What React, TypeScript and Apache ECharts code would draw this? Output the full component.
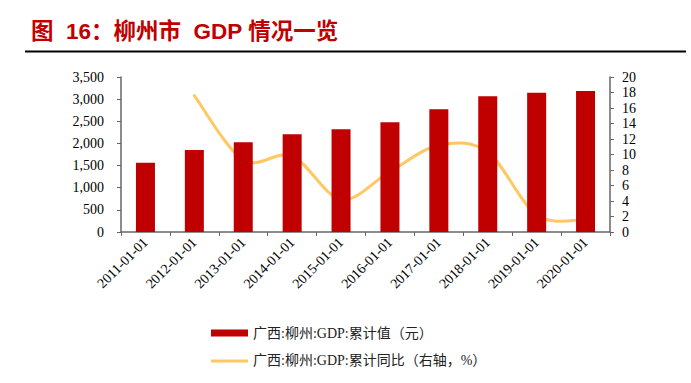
import React, { useEffect, useRef } from "react";
import * as echarts from "echarts";

const categories = [
  "2011-01-01", "2012-01-01", "2013-01-01", "2014-01-01", "2015-01-01",
  "2016-01-01", "2017-01-01", "2018-01-01", "2019-01-01", "2020-01-01",
];
const gdpValues = [1565, 1851, 2025, 2205, 2319, 2477, 2770, 3064, 3146, 3184];
const gdpGrowth: (number | null)[] = [null, 17.6, 9.3, 9.8, 4.2, 7.8, 11.2, 10.3, 2.2, 1.6];
const barName = "广西:柳州:GDP:累计值（元）";
const lineName = "广西:柳州:GDP:累计同比（右轴，%）";
const titleText = "图  16：柳州市  GDP 情况一览";

const serif = "'Liberation Serif', 'Times New Roman', 'Noto Sans CJK SC', serif";
const axisColor = "#666666";
const lineColor = "#FFC864";

const growthPoints = gdpGrowth
  .map((v, i) => (v == null ? null : [i, v]))
  .filter((p) => p != null) as number[][];

export default function App() {
  const ref = useRef<HTMLDivElement>(null);
  useEffect(() => {
    if (!ref.current) return;
    const chart = echarts.init(ref.current, null, { renderer: "svg" });
    chart.setOption({
      animation: false,
      backgroundColor: "#ffffff",
      title: {
        text: titleText,
        left: 26,
        top: 15,
        textStyle: {
          color: "#C00000",
          fontSize: 22.5,
          fontWeight: "bold",
          fontFamily: "'Liberation Sans', Arial, 'Noto Sans CJK SC', sans-serif",
        },
      },
      graphic: [
        {
          type: "rect",
          shape: { x: 25, y: 50.5, width: 661, height: 2 },
          style: { fill: "#000000" },
        },
      ],
      grid: { left: 121, right: 81, top: 77, bottom: 151 },
      legend: {
        orient: "vertical",
        left: 206,
        top: 321,
        itemWidth: 37,
        itemHeight: 7,
        itemGap: 14,
        textStyle: { fontSize: 14, color: "#222", fontFamily: serif },
        data: [
          { name: barName, icon: "rect" },
          { name: lineName, icon: "path://M0 0H37V3H0Z", itemStyle: { color: lineColor } },
        ],
      },
      xAxis: {
        type: "category",
        data: categories,
        axisLine: { lineStyle: { color: axisColor, width: 1.5 } },
        axisTick: { show: true, length: 4, inside: false, lineStyle: { color: axisColor } },
        axisLabel: {
          rotate: 45,
          fontSize: 14,
          color: "#000",
          fontFamily: serif,
          margin: 8,
          interval: 0,
        },
      },
      yAxis: [
        {
          type: "value",
          min: 0,
          max: 3500,
          interval: 500,
          splitLine: { show: false },
          axisLine: { show: true, lineStyle: { color: axisColor, width: 1.5 } },
          axisTick: { show: true, length: 4, lineStyle: { color: axisColor } },
          axisLabel: {
            fontSize: 14,
            color: "#000",
            fontFamily: serif,
            margin: 17,
            formatter: (v: number) => v.toLocaleString("en-US"),
          },
        },
        {
          type: "value",
          min: 0,
          max: 20,
          interval: 2,
          position: "right",
          splitLine: { show: false },
          axisLine: { show: true, lineStyle: { color: axisColor, width: 1.5 } },
          axisTick: { show: true, length: 4, lineStyle: { color: axisColor } },
          axisLabel: { fontSize: 14, color: "#000", fontFamily: serif, margin: 12 },
        },
      ],
      series: [
        {
          name: barName,
          type: "bar",
          data: gdpValues,
          barWidth: 19,
          itemStyle: { color: "#C00000" },
        },
        {
          name: lineName,
          type: "custom",
          yAxisIndex: 1,
          data: growthPoints,
          itemStyle: { color: lineColor },
          encode: { x: 0, y: 1 },
          renderItem: (params: any, api: any) => {
            if (params.dataIndex !== 0) return null;
            const pts = growthPoints.map((p) => api.coord([p[0], p[1]]));
            let d = `M${pts[0][0]},${pts[0][1]}`;
            for (let i = 0; i < pts.length - 1; i++) {
              const p0 = pts[Math.max(0, i - 1)];
              const p1 = pts[i];
              const p2 = pts[i + 1];
              const p3 = pts[Math.min(pts.length - 1, i + 2)];
              const c1x = p1[0] + (p2[0] - p0[0]) / 6;
              const c1y = p1[1] + (p2[1] - p0[1]) / 6;
              const c2x = p2[0] - (p3[0] - p1[0]) / 6;
              const c2y = p2[1] - (p3[1] - p1[1]) / 6;
              d += ` C${c1x},${c1y} ${c2x},${c2y} ${p2[0]},${p2[1]}`;
            }
            return {
              type: "path",
              shape: { pathData: d },
              style: { stroke: lineColor, lineWidth: 3, fill: "none", lineCap: "round" },
              silent: true,
            };
          },
        },
      ],
    });
    return () => chart.dispose();
  }, []);
  return (
    <div
      ref={ref}
      style={{ position: "absolute", left: 0, top: 0, width: 691, height: 383 }}
    />
  );
}
